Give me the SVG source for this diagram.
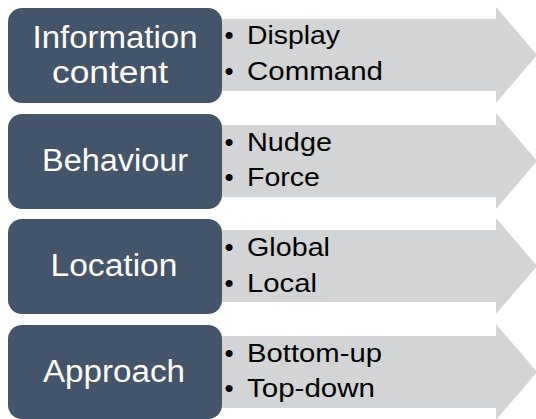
<svg xmlns="http://www.w3.org/2000/svg" width="536" height="419" viewBox="0 0 536 419">
<style>
.arrow{fill:#D3D4D6}
.box{fill:#44546A}
.lbl{font-family:"Liberation Sans",Arial,sans-serif;font-size:31px;fill:#FFFFFF;text-anchor:middle}
.itm{font-family:"Liberation Sans",Arial,sans-serif;font-size:26.5px;fill:#000000}
.dot{font-family:"Liberation Sans",Arial,sans-serif;font-size:26px;fill:#000000;text-anchor:middle}
</style>
<rect width="536" height="419" fill="#FFFFFF"/>
<g id="connectors">
<path class="arrow" d="M210,19 H496 V7 L537,55 L496,103 V91 H210 Z"/>
<path class="arrow" d="M210,125 H496 V113 L537,161 L496,209 V197 H210 Z"/>
<path class="arrow" d="M210,230 H496 V218 L537,266 L496,314 V302 H210 Z"/>
<path class="arrow" d="M210,336 H496 V324 L537,372 L496,420 V408 H210 Z"/>
</g>
<g id="node-information">
<rect class="box" x="8" y="8" width="214" height="95" rx="14"/>
<text class="lbl" x="115" y="48" textLength="165" lengthAdjust="spacingAndGlyphs">Information</text>
<text class="lbl" x="110" y="83" textLength="116" lengthAdjust="spacingAndGlyphs">content</text>
<text class="dot" x="229" y="44">•</text>
<text class="itm" x="247" y="44" textLength="93" lengthAdjust="spacingAndGlyphs">Display</text>
<text class="dot" x="229" y="80">•</text>
<text class="itm" x="247" y="80" textLength="136" lengthAdjust="spacingAndGlyphs">Command</text>
</g>
<g id="node-behaviour">
<rect class="box" x="8" y="114" width="214" height="95" rx="14"/>
<text class="lbl" x="115" y="171" textLength="146" lengthAdjust="spacingAndGlyphs">Behaviour</text>
<text class="dot" x="229" y="151">•</text>
<text class="itm" x="247" y="151" textLength="85" lengthAdjust="spacingAndGlyphs">Nudge</text>
<text class="dot" x="229" y="186">•</text>
<text class="itm" x="247" y="186" textLength="73" lengthAdjust="spacingAndGlyphs">Force</text>
</g>
<g id="node-location">
<rect class="box" x="8" y="219" width="214" height="95" rx="14"/>
<text class="lbl" x="114" y="276" textLength="127" lengthAdjust="spacingAndGlyphs">Location</text>
<text class="dot" x="229" y="256">•</text>
<text class="itm" x="247" y="256" textLength="83" lengthAdjust="spacingAndGlyphs">Global</text>
<text class="dot" x="229" y="292">•</text>
<text class="itm" x="247" y="292" textLength="70" lengthAdjust="spacingAndGlyphs">Local</text>
</g>
<g id="node-approach">
<rect class="box" x="8" y="325" width="214" height="94" rx="14"/>
<text class="lbl" x="114" y="382" textLength="142" lengthAdjust="spacingAndGlyphs">Approach</text>
<text class="dot" x="229" y="362">•</text>
<text class="itm" x="247" y="362" textLength="135" lengthAdjust="spacingAndGlyphs">Bottom-up</text>
<text class="dot" x="229" y="397">•</text>
<text class="itm" x="247" y="397" textLength="128" lengthAdjust="spacingAndGlyphs">Top-down</text>
</g>
</svg>
